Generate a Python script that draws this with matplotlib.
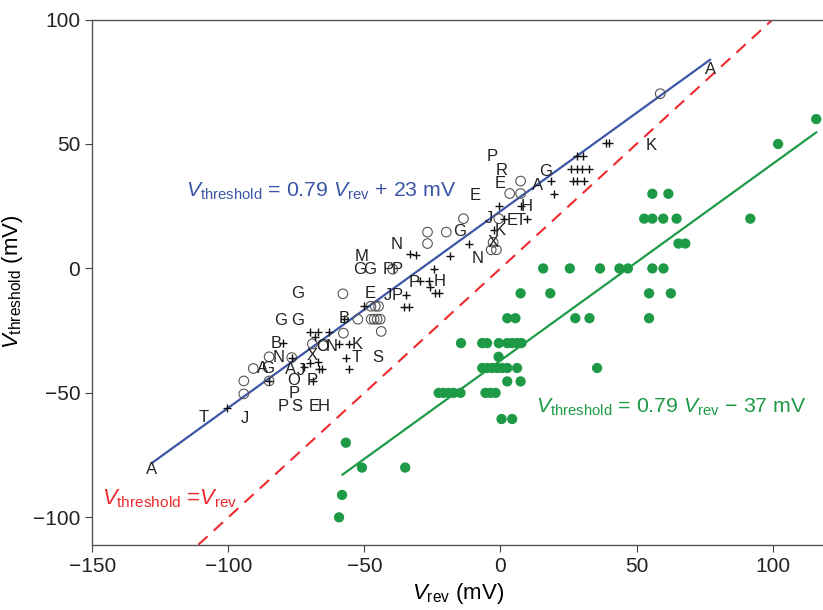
import matplotlib
matplotlib.use("Agg")
import matplotlib.pyplot as plt
import numpy as np

plt.rcParams['font.family'] = ['Liberation Sans', 'DejaVu Sans']
plt.rcParams['mathtext.fontset'] = 'custom'
plt.rcParams['mathtext.rm'] = 'Liberation Sans'
plt.rcParams['mathtext.it'] = 'Liberation Sans:italic'

# filled green points
green_x = [116, 102, 55.8, 61.7, 52.8, 55.8, 59.8, 64.7, 91.8, 65.4, 67.9,
           15.7, 25.5, 36.6, 43.7, 46.8, 55.8, 59.9,
           7.4, 18.3, 54.6, 62.6, 27.5, 32.7, 54.6, 2.5, 5.5,
           -14.5, -6.7, -4.9, -0.6, 2.5, 4.3, 6.1, 7.7, -0.7,
           -6.7, -4.9, -3.1, -1.2, 0.6, 2.5, 6.1, 35.5, 2.5, 7.4,
           -22.7, -20.9, -19, -17.2, -14.7, -5.5, -3.7, -1.8, 0.4, 4.3,
           -56.8, -50.9, -35, -58.2, -59.3]
green_y = [60, 50, 30, 30, 20, 20, 20, 20, 20, 10, 10,
           0, 0, 0, 0, 0, 0, 0,
           -10, -10, -10, -10, -20, -20, -20, -20, -20,
           -30, -30, -30, -30, -30, -30, -30, -30, -35.5,
           -40, -40, -40, -40, -40, -40, -40, -40, -45.4, -45.4,
           -50, -50, -50, -50, -50, -50, -50, -50, -60.5, -60.5,
           -70, -80, -80, -91, -100]

# open circles
circ_x = [-57.9, -47.6, -46, -44.8, -52.4, -47.5, -46.4, -45.3, -44.2, -43.8,
          -57.7, -69.1, -65.2, -85, -76.7, -90.8, -94.3, -85, -94.3, -39.6,
          -26.8, -19.9, -26.8, -13.6, 7.4, 3.4, 7.4, -0.6, -2.7, -3.4, -1.5, 58.7]
circ_y = [-10.2, -15.2, -15.2, -15.2, -20.4, -20.4, -20.4, -20.4, -20.4, -25.3,
          -26, -30.3, -31, -35.5, -35.8, -40.2, -45.2, -45.2, -50.4, -0.3,
          14.6, 14.6, 10, 20, 35.1, 30.1, 30.1, 20, 10.5, 7.5, 7.5, 70.2]

# plus markers
plus_x = [-34.7, -50, -35.3, -33.5, -57.3, -70, -66.9, -63.1, -68.1, -79.8,
          -59.5, -55.7, -56.8, -55.7, -76.7, -69.8, -66.9, -66.6, -65.4, -72,
          -85, -69, -100.4,
          -33.1, -30.9, -18.7, -11.7, -24.5, -29.5, -26.4, -25.8, -24, -22.7,
          -0.6, 7.4, 1.2, 9.6, -2.5, 18.4, 19.6, 28.2, 30.4,
          25.8, 28, 30.1, 32.5, 26.8, 28.2, 30.7, 38.7, 39.9]
plus_y = [-10.5, -15.2, -15.3, -15.3, -20.3, -25.5, -25.5, -25.5, -27.5, -30.1,
          -30.4, -30.5, -35.8, -40.5, -35.8, -38, -37.5, -40.6, -40.6, -39.5,
          -45.2, -45.4, -55.9,
          5.9, 5.2, 4.8, 10, -0.2, -5, -5, -7.5, -10, -10,
          25, 25, 19.7, 19.8, 15.3, 35.1, 30.1, 45.2, 45.2,
          39.8, 39.8, 39.8, 39.8, 35.1, 35.1, 35.1, 50.3, 50.3]

# letter markers
let_s = ["G", "E", "J", "P", "G", "G", "B", "B", "O", "N", "K", "T", "S", "X",
         "N", "A", "G", "A", "J", "O", "P", "P", "P", "S", "E", "H", "T", "J", "A",
         "N", "M", "G", "G", "P", "P", "G", "N", "P", "H", "E",
         "P", "R", "E", "A", "G", "H", "J", "E", "T", "K", "X", "A", "K"]
let_x = [-74.5, -48, -41.4, -38, -80.6, -74.5, -57.3, -82.5, -65.2, -62.2, -52.8, -52.8, -45.2, -69,
         -81.6, -87.4, -85.5, -77.3, -73.3, -75.8, -69, -75.8, -80, -74.9, -68.5, -65, -109.2, -93.9, -128.2,
         -38, -50.9, -51.8, -48.2, -41.1, -38, -15, -8.3, -31.6, -22.5, -9.2,
         -3.1, 0.6, 0, 13.5, 16.6, 9.6, -4.3, 4.3, 7.4, 0, -2.7, 77.3, 55.5]
let_y = [-10.2, -10.2, -11, -11, -21, -21, -20.3, -30.1, -31.2, -31.2, -30.4, -35.8, -35.8, -35.1,
         -35.8, -40, -40, -40.5, -41, -45, -45, -50.3, -55.6, -55.6, -55.6, -55.6, -59.7, -60.2, -80.8,
         9.7, 4.8, -0.6, -0.6, -0.5, -0.5, 15, 4, -5.5, -5.1, 29.4,
         44.9, 39.5, 34.2, 33.2, 38.8, 25, 20, 19.4, 19.4, 15.3, 10.6, 79.8, 49.2]

# fits: slope, intercept, x range
slope = 0.79
blue_b, blue_rng = 23, [-128, 77]
green_b, green_rng = -37, [-58, 116]
ident_rng = [-111, 100]

blue = '#3b56a6'
green = '#1e9a47'
red = '#ee2a2e'

fig = plt.figure(figsize=(8.23, 6.10), dpi=100)
ax = fig.add_axes([0.112, 0.107, 0.888, 0.861])

ax.scatter(green_x, green_y, s=55, color=green, edgecolors='none', zorder=3)
ax.scatter(circ_x, circ_y, s=48, facecolors='none', edgecolors='#555555', linewidths=0.8, zorder=3)
ax.scatter(plus_x, plus_y, s=38, marker='+', color='#111111', linewidths=1.0, zorder=3)
for s, x, y in zip(let_s, let_x, let_y):
    ax.text(x, y, s, ha='center', va='center', fontsize=12, color='#222222', zorder=4)

bx = np.array(blue_rng)
ax.plot(bx, slope * bx + blue_b, color=blue, lw=1.6, zorder=2)
gx = np.array(green_rng)
ax.plot(gx, slope * gx + green_b, color=green, lw=1.6, zorder=2)
ax.plot(ident_rng, ident_rng, color=red, lw=1.5, ls=(0, (6, 4)), zorder=2)

ax.text(-115.5, 31, r'$V_{\mathrm{threshold}}$ = 0.79 $V_{\mathrm{rev}}$ + 23 mV',
        color=blue, fontsize=15.3, ha='left', va='center')
ax.text(13, -56, r'$V_{\mathrm{threshold}}$ = 0.79 $V_{\mathrm{rev}}$ $-$ 37 mV',
        color=green, fontsize=15.3, ha='left', va='center')
ax.text(-146.5, -92.5, r'$V_{\mathrm{threshold}}$ =$V_{\mathrm{rev}}$',
        color=red, fontsize=15.8, ha='left', va='center')

ax.set_xlim(-150, 118.5)
ax.set_ylim(-111, 100)
ax.set_xticks([-150, -100, -50, 0, 50, 100])
ax.set_yticks([-100, -50, 0, 50, 100])
ax.set_xticklabels(['\u2212150', '\u2212100', '\u221250', '0', '50', '100'])
ax.set_yticklabels(['\u2212100', '\u221250', '0', '50', '100'])
ax.tick_params(labelsize=15, length=5, color='#444444', labelcolor='#222222')
ax.spines['right'].set_visible(False)
for sp in ['left', 'bottom', 'top']:
    ax.spines[sp].set_color('#555555')
    ax.spines[sp].set_linewidth(1.0)

ax.set_xlabel(r'$V_{\mathrm{rev}}$ (mV)', fontsize=16, labelpad=4)
ax.set_ylabel(r'$V_{\mathrm{threshold}}$ (mV)', fontsize=16, labelpad=6)

fig.savefig('out.png', dpi=100)
